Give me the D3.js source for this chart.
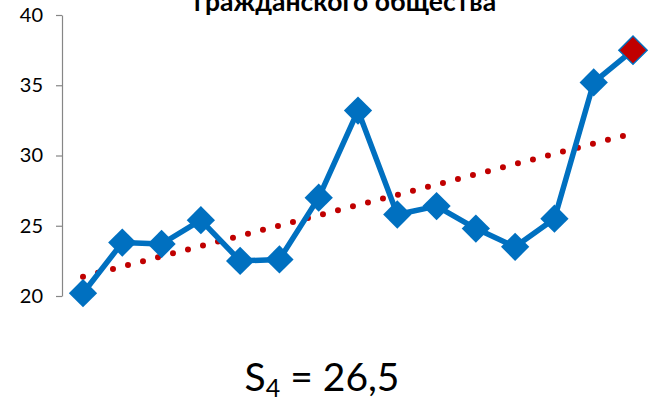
<!DOCTYPE html>
<html>
<head>
<meta charset="utf-8">
<script src="https://cdn.jsdelivr.net/npm/d3@7"></script>
<style>
html,body{margin:0;padding:0;background:#fff;}
svg{display:block;}
</style>
</head>
<body>
<svg id="chart" width="661" height="402"></svg>
<script>
const titleText = "гражданского общества";
const periods = [1,2,3,4,5,6,7,8,9,10,11,12,13,14,15];
const values = [20.2,23.8,23.7,25.4,22.5,22.6,27.0,33.2,25.8,26.4,24.8,23.5,25.5,35.2,37.5];
const yTicks = [20,25,30,35,40];
const meanLabel = {name:"S", sub:"4", value:"26,5"};

const svg = d3.select("#chart");
const x = d3.scaleLinear().domain([1,15]).range([83,633]);
const y = d3.scaleLinear().domain([20,40]).range([296,15]);

// title (top cut, as in the reference)
svg.append("text")
  .attr("x",345).attr("y",11)
  .attr("text-anchor","middle")
  .attr("font-family","Lato, 'Open Sans', sans-serif")
  .attr("font-weight","bold")
  .attr("font-size",26.5)
  .attr("fill","#000")
  .text(titleText);

// y axis
const ax = svg.append("g").attr("transform","translate(62,0)")
  .call(d3.axisLeft(y).tickValues(yTicks).tickSize(6).tickSizeOuter(0).tickPadding(13));
ax.select(".domain").attr("stroke","#868686").attr("stroke-width",1.2);
ax.selectAll(".tick line").attr("stroke","#868686").attr("stroke-width",1.2);
ax.selectAll(".tick text")
  .attr("font-family","Lato, 'Open Sans', sans-serif")
  .attr("font-size",20).attr("fill","#000");

// trend line (least squares)
const n = values.length;
const mx = d3.mean(periods), my = d3.mean(values);
const slope = d3.sum(periods,(p,i)=>(p-mx)*(values[i]-my))/d3.sum(periods,p=>(p-mx)*(p-mx));
const b = my - slope*mx;
svg.append("line")
  .attr("x1",x(periods[0])).attr("y1",y(b+slope*periods[0]))
  .attr("x2",x(periods[n-1])).attr("y2",y(b+slope*periods[n-1]))
  .attr("stroke","#C00000").attr("stroke-width",6)
  .attr("stroke-linecap","round").attr("stroke-dasharray","0 15.5");

// data line
const line = d3.line().x((d,i)=>x(periods[i])).y(d=>y(d));
svg.append("path").datum(values)
  .attr("d",line).attr("fill","none")
  .attr("stroke","#0070C0").attr("stroke-width",5.5)
  .attr("stroke-linejoin","round");

// diamonds
svg.selectAll("path.mk").data(values).enter().append("path")
  .attr("class","mk")
  .attr("d",d3.symbol().type(d3.symbolSquare).size(400)())
  .attr("transform",(d,i)=>`translate(${x(periods[i])},${y(d)}) rotate(45)`)
  .attr("fill",(d,i)=>i===n-1?"#C00000":"#0070C0")
  .attr("stroke","#0070C0").attr("stroke-width",(d,i)=>i===n-1?1.5:0);

// mean label
const t = svg.append("text")
  .attr("x",322).attr("y",391)
  .attr("text-anchor","middle")
  .attr("font-family","Lato, 'Open Sans', sans-serif")
  .attr("font-size",39).attr("fill","#000");
t.append("tspan").text(meanLabel.name);
t.append("tspan").attr("font-size",25).attr("dy",6).text(meanLabel.sub);
t.append("tspan").attr("dy",-6).text(" = " + meanLabel.value);
</script>
</body>
</html>
